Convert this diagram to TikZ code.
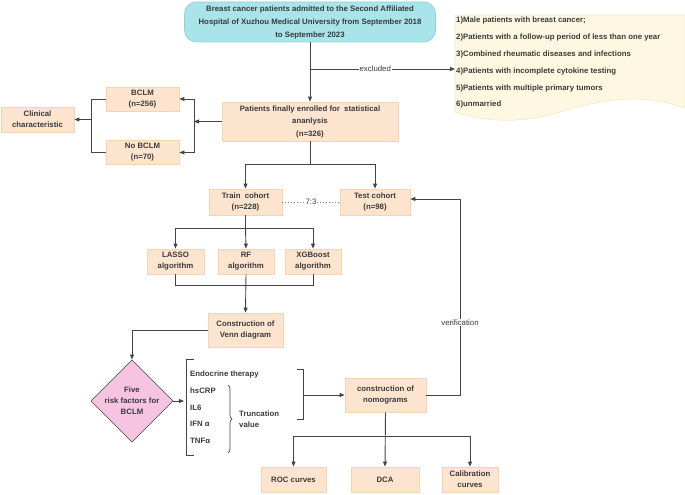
\documentclass[tikz,border=0pt]{standalone}
\usepackage{fontspec}
\setmainfont{Liberation Sans}
\usetikzlibrary{shapes.geometric,arrows.meta,decorations.pathreplacing}
\definecolor{boxf}{HTML}{FCE4CF}
\definecolor{boxd}{HTML}{F6D3B3}
\definecolor{cyanf}{HTML}{A8E4EA}
\definecolor{cyand}{HTML}{8FD3DC}
\definecolor{docf}{HTML}{FEF8E2}
\definecolor{docd}{HTML}{F1E8C4}
\definecolor{pinkf}{HTML}{F6C4E0}
\definecolor{txt}{HTML}{3A3A3A}
\definecolor{ln}{HTML}{444444}
\begin{document}
\begin{tikzpicture}[x=1pt,y=-1pt,font=\fontsize{7.8}{11}\selectfont\bfseries,text=txt,
 box/.style={draw=boxd,fill=boxf,line width=0.8pt,align=center,inner sep=0pt},
 ar/.style={draw=ln,line width=0.9pt,-{Triangle[length=5pt,width=4pt]}},
 li/.style={draw=ln,line width=0.9pt},
 lab/.style={fill=white,inner sep=1pt,font=\fontsize{7.8}{9}\selectfont}]
\useasboundingbox (0,0) rectangle (685,495);
% top
\node[box,draw=cyand,fill=cyanf,rounded corners=12pt,minimum width=251pt,minimum height=40pt,font=\fontsize{7.8}{13}\selectfont\bfseries] (top) at (310,22)
 {Breast cancer patients admitted to the Second Affiliated\\Hospital of Xuzhou Medical University from September 2018\\to September 2023};
% exclusion document
\path[fill=docf,draw=docd,line width=0.6pt] (455,15) -- (685,15) -- (685,108)
  .. controls (640,92) and (600,100) .. (560,112) .. controls (520,124) and (485,122) .. (455,112) -- cycle;
\node[anchor=north west,align=left,inner sep=0pt,font=\fontsize{7.8}{16.8}\selectfont\bfseries] (exc) at (456,17)
 {1)Male patients with breast cancer;\\2)Patients with a follow-up period of less than one year\\3)Combined rheumatic diseases and infections\\4)Patients with incomplete cytokine testing\\5)Patients with multiple primary tumors\\6)unmarried};
\coordinate (excin) at (455,69);
\node[box,minimum width=176pt,minimum height=39pt,font=\fontsize{7.8}{12.5}\selectfont\bfseries] (enr) at (310,121.5)
 {Patients finally enrolled for\ \ statistical\\ananlysis\\(n=326)};
\node[box,minimum width=73pt,minimum height=24pt] (bclm) at (142.5,99) {BCLM\\(n=256)};
\node[box,minimum width=73pt,minimum height=24pt] (nob) at (142.5,152.5) {No BCLM\\(n=70)};
\node[box,minimum width=73pt,minimum height=25pt] (clin) at (37.5,119.5) {Clinical\\characteristic};
\node[box,minimum width=73pt,minimum height=26pt] (train) at (245.5,202) {Train\ \ cohort\\(n=228)};
\node[box,minimum width=70pt,minimum height=26pt] (test) at (375,202) {Test cohort\\(n=98)};
\node[box,minimum width=57pt,minimum height=25pt] (lasso) at (175.5,261.5) {LASSO\\algorithm};
\node[box,minimum width=56pt,minimum height=25pt] (rf) at (246,261.5) {RF\\algorithm};
\node[box,minimum width=56pt,minimum height=25pt] (xgb) at (313,261.5) {XGBoost\\algorithm};
\node[box,minimum width=75pt,minimum height=34pt] (venn) at (245.5,330) {Construction of\\Venn diagram};
\node[diamond,draw=ln,fill=pinkf,line width=0.6pt,minimum width=74pt,minimum height=56pt,inner sep=0pt,align=center] (five) at (132,401) {Five\\risk factors for\\BCLM};
\node[box,minimum width=81pt,minimum height=34pt] (nomo) at (385.5,395) {construction of\\nomograms};
\node[box,minimum width=65pt,minimum height=25pt] (roc) at (293.5,479.5) {ROC curves};
\node[box,minimum width=68pt,minimum height=25pt] (dca) at (385,479.5) {DCA};
\node[box,minimum width=56pt,minimum height=25pt] (cal) at (470,479.5) {Calibration\\curves};
% factor list
\begin{scope}[every node/.style={anchor=west,inner sep=0pt}]
\node (f1) at (190,374) {Endocrine therapy};
\node (f2) at (190,391) {hsCRP};
\node (f3) at (190,407.5) {IL6};
\node (f4) at (190,424) {IFN α};
\node (f5) at (190,441) {TNFα};
\node[align=left] (tv) at (239,419) {Truncation\\value};
\end{scope}
\draw[li,line width=0.7pt] (194,359) -- (186,359) -- (186,455) -- (194,455);
\draw[li,line width=0.7pt,decorate,decoration={brace,amplitude=4pt}] (228,385) -- (228,453);
\draw[li,line width=0.7pt] (297,369) -- (303,369) -- (303,419) -- (297,419);
\coordinate (rb) at (303,395);
\coordinate (lb) at (184,401);
% connectors
\draw[ar] (top.south) -- (enr.north);
\draw[ar] (310,69) -- node[lab,pos=0.45]{excluded} (excin);
\draw[ar] (enr.west) -- (194,121.5);
\draw[li] (194,99) -- (194,152.5);
\draw[ar] (194,99) -- (bclm.east);
\draw[ar] (194,152.5) -- (nob.east);
\draw[li] (bclm.west) -- (91,99) -- (91,152.5) -- (nob.west);
\draw[ar] (91,119.5) -- (clin.east);
\draw[li] (enr.south) -- (310,164) -- (245.5,164);
\draw[ar] (245.5,164) -- (train.north);
\draw[ar] (310,164) -- (375,164) -- (test.north);
\draw[li,dotted,line width=0.6pt,draw=gray] (train.east) -- node[lab,text=txt]{7:3} (test.east-|test.west);
\draw[li] (train.south) -- (245.5,228) (175.5,228) -- (313,228);
\draw[ar] (175.5,228) -- (lasso.north);
\draw[ar] (245.5,228) -- (rf.north);
\draw[ar] (313,228) -- (xgb.north);
\draw[li] (lasso.south) -- (175.5,285) -- (313,285) -- (xgb.south);
\draw[ar] (rf.south) -- (venn.north);
\draw[ar] (venn.west) -- (132,330) -- (five.north);
\draw[ar] (five.east) -- (lb);
\draw[ar] (rb) -- (nomo.west);
\draw[ar] (nomo.east) -- (460,395) -- node[lab,pos=0.37]{verification} (460,199) -- (test.east |- 0,199);
\draw[ar] (nomo.south) -- (dca.north);
\draw[li] (293.5,436) -- (470,436);
\draw[ar] (293.5,436) -- (roc.north);
\draw[ar] (470,436) -- (cal.north);
\end{tikzpicture}
\end{document}
